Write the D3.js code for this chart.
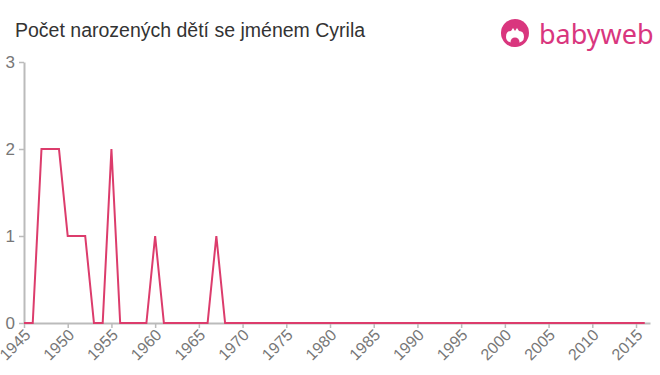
<!DOCTYPE html>
<html>
<head>
<meta charset="utf-8">
<script src="https://cdn.jsdelivr.net/npm/d3@7"></script>
<style>
  body { margin: 0; background: #fff; }
  svg { font-family: "Liberation Sans", Arial, sans-serif; }
</style>
</head>
<body>
<svg id="chart"></svg>
<script>
const years = d3.range(1945, 2017);
const counts = [
  0, 0, 2, 2, 2, 1, 1, 1, 0, 0,   // 1945-1954
  2, 0, 0, 0, 0, 1, 0, 0, 0, 0,   // 1955-1964
  0, 0, 1, 0, 0, 0, 0, 0, 0, 0,   // 1965-1974
  0, 0, 0, 0, 0, 0, 0, 0, 0, 0,   // 1975-1984
  0, 0, 0, 0, 0, 0, 0, 0, 0, 0,   // 1985-1994
  0, 0, 0, 0, 0, 0, 0, 0, 0, 0,   // 1995-2004
  0, 0, 0, 0, 0, 0, 0, 0, 0, 0,   // 2005-2014
  0, 0                            // 2015-2016
];
const xTicks = d3.range(1945, 2016, 5);
const yTicks = [0, 1, 2, 3];
const title = "Počet narozených dětí se jménem Cyrila";

const W = 660, H = 375;
const margin = { top: 62, right: 10, bottom: 52, left: 24 };

const svg = d3.select("#chart").attr("width", W).attr("height", H);

const x = d3.scaleLinear().domain([1945, 2016.6]).range([margin.left, W - margin.right]);
const y = d3.scaleLinear().domain([0, 3]).range([H - margin.bottom, margin.top]);

const data = years.map((yr, i) => ({ year: yr, value: counts[i] }));

svg.append("text")
    .attr("x", 15)
    .attr("y", 37)
    .attr("font-size", 19.5)
    .attr("fill", "#333")
    .text(title);

// axes
const xAxis = svg.append("g")
    .attr("transform", `translate(0, ${y(0)})`)
    .call(d3.axisBottom(x).tickValues(xTicks).tickFormat(d3.format("d")).tickSize(5).tickSizeOuter(0));

xAxis.selectAll("text")
    .attr("font-size", 16)
    .attr("fill", "#777")
    .attr("text-anchor", "end")
    .attr("x", 0)
    .attr("y", 0)
    .attr("dy", 0)
    .attr("transform", "translate(7,13) rotate(-45)");

const yAxis = svg.append("g")
    .attr("transform", `translate(${margin.left}, 0)`)
    .call(d3.axisLeft(y).tickValues(yTicks).tickFormat(d3.format("d")).tickSize(5).tickSizeOuter(0));

yAxis.selectAll("text")
    .attr("font-size", 17)
    .attr("fill", "#777")
    .attr("dx", "-1");

svg.selectAll(".domain, .tick line")
    .attr("stroke", "#bbb")
    .attr("stroke-width", 2);

xAxis.selectAll(".tick line").attr("stroke-width", 1.5);
yAxis.selectAll(".tick line").attr("stroke-width", 1.5);

// line
svg.append("path")
    .datum(data)
    .attr("fill", "none")
    .attr("stroke", "#dc3c6c")
    .attr("stroke-width", 2)
    .attr("d", d3.line().x(d => x(d.year)).y(d => y(d.value)));

// logo
const logo = svg.append("g").attr("transform", "translate(515, 33)");
logo.append("circle").attr("r", 14).attr("fill", "#d9367e");
logo.append("path")
    .attr("d", "M-9,4 Q-9,-2 -4,-2 L-2,-5 L0,-2 L2,-5 L4,-2 Q9,-2 9,4 Q9,10 0,10 Q-9,10 -9,4 Z")
    .attr("fill", "#fff");
logo.append("circle").attr("cx", 0).attr("cy", 9).attr("r", 4.5).attr("fill", "#d9367e");
svg.append("text")
    .attr("x", 539)
    .attr("y", 44)
    .attr("font-size", 27)
    .attr("font-family", "'Noto Sans', sans-serif")
    .attr("fill", "#d9367e")
    .text("babyweb");
</script>
</body>
</html>
